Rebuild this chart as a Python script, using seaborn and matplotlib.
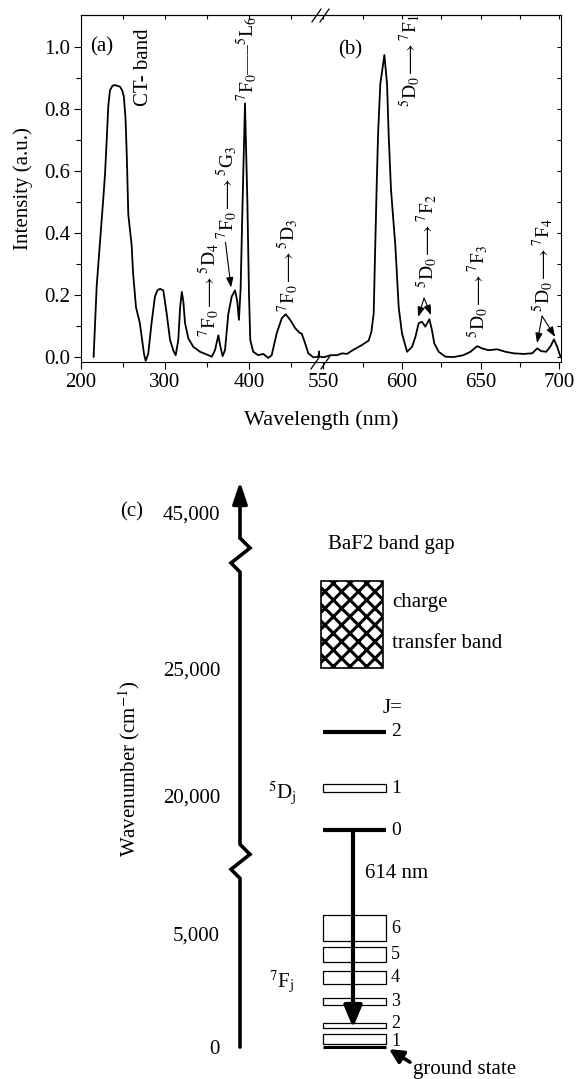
import matplotlib
matplotlib.use("Agg")
import matplotlib.pyplot as plt
import numpy as np
import seaborn as sns
from matplotlib.ticker import NullFormatter

# ------------------------------------------------------------------
# Data
# ------------------------------------------------------------------
# (a) excitation spectrum, left part of the broken axis
exc_nm = [215.0, 218.7, 222.6, 226.5, 228.6, 230.6, 232.5, 234.5, 237.5, 240.5,
          244.0, 246.4, 249.0, 251.0, 253.0, 254.5, 256.3, 260.3, 262.0, 265.5,
          270.0, 275.0, 277.0, 280.0, 284.0, 288.0, 291.0, 294.0, 298.0, 302.0,
          306.0, 310.0, 312.7, 315.8, 318.0, 320.0, 321.8, 323.8, 327.8, 333.7,
          341.7, 351.6, 355.6, 359.5, 363.5, 366.0, 368.6, 371.4, 375.4, 379.4,
          383.3, 386.0, 388.0, 390.0, 392.4, 395.2, 398.0, 400.0, 401.5, 405.0,
          411.0, 417.0, 423.0, 427.0, 433.0, 439.0, 443.6, 449.0, 455.0, 460.7,
          462.7, 466.7, 470.6, 476.6, 482.5, 483.6, 484.5]
exc_int = [0.000, 0.230, 0.370, 0.510, 0.590, 0.700, 0.810, 0.860, 0.875, 0.877,
           0.874, 0.872, 0.860, 0.840, 0.770, 0.650, 0.460, 0.360, 0.270, 0.160,
           0.110, 0.010, -0.012, 0.010, 0.110, 0.195, 0.215, 0.220, 0.215, 0.140,
           0.055, 0.020, 0.006, 0.055, 0.160, 0.210, 0.180, 0.110, 0.060, 0.033,
           0.017, 0.006, 0.001, 0.022, 0.070, 0.033, 0.003, 0.022, 0.140, 0.195,
           0.215, 0.180, 0.120, 0.220, 0.506, 0.818, 0.506, 0.200, 0.055, 0.017,
           0.006, 0.010, -0.003, 0.006, 0.077, 0.125, 0.138, 0.120, 0.093, 0.077,
           0.076, 0.045, 0.012, -0.001, 0.001, 0.018, 0.000]

# (b) emission spectrum, right part of the broken axis
emi_nm = [548.5, 551.0, 554.5, 558.7, 562.0, 565.0, 569.0, 574.6, 578.8, 580.5,
          582.0, 583.0, 584.0, 584.8, 586.2, 588.8, 590.5, 591.5, 593.0, 595.8,
          597.9, 600.0, 603.2, 606.4, 608.5, 610.6, 612.7, 614.8, 617.4, 619.0,
          620.5, 623.3, 627.6, 632.8, 639.0, 643.5, 647.7, 650.9, 655.0, 660.4,
          665.7, 671.0, 677.3, 682.7, 685.9, 688.4, 691.6, 694.4, 696.5, 698.6,
          700.7]
emi_int = [0.000, 0.000, 0.006, 0.006, 0.012, 0.010, 0.023, 0.039, 0.053, 0.080,
           0.140, 0.360, 0.570, 0.720, 0.880, 0.974, 0.880, 0.720, 0.540, 0.356,
           0.160, 0.076, 0.017, 0.033, 0.065, 0.109, 0.114, 0.098, 0.122, 0.087,
           0.044, 0.017, 0.001, 0.000, 0.006, 0.017, 0.035, 0.028, 0.022, 0.025,
           0.017, 0.012, 0.010, 0.012, 0.028, 0.019, 0.017, 0.035, 0.057, 0.033,
           0.000]

# transition labels: (wavelength, bottom of label, text)
exc_labels = [
    (352.0, 0.065, r"$^7$F$_0{\longrightarrow}{}^5$D$_4$"),
    (373.4, 0.380, r"$^7$F$_0{\longrightarrow}{}^5$G$_3$"),
    (396.5, 0.825, r"$^7$F$_0$—–$^5$L$_6$"),
    (445.5, 0.145, r"$^7$F$_0{\longrightarrow}{}^5$D$_3$"),
]
emi_labels = [
    (605.1, 0.806, r"$^5$D$_0{\longrightarrow}{}^7$F$_1$"),
    (615.9, 0.222, r"$^5$D$_0{\longrightarrow}{}^7$F$_2$"),
    (648.3, 0.060, r"$^5$D$_0{\longrightarrow}{}^7$F$_3$"),
    (689.6, 0.145, r"$^5$D$_0{\longrightarrow}{}^7$F$_4$"),
]
# pointer arrows from a label to its peak(s): (start, end)
exc_pointers = [((372.0, 0.370), (378.6, 0.224))]
emi_pointers = [((614.0, 0.190), (610.2, 0.129)),
                ((614.0, 0.190), (618.5, 0.135)),
                ((689.0, 0.132), (685.8, 0.045)),
                ((689.0, 0.132), (697.3, 0.065))]

# (c) energy-level scheme, wavenumbers in cm-1 on the broken scale
wn_ticks = [0, 5000, 20000, 25000, 45000]
wn_ticklabels = ["0", "5,000", "20,000", "25,000", "45,000"]
wn_breaks = [12800, 39500]
f_j = ["1", "2", "3", "4", "5", "6"]
f_lo = [130, 830, 1840, 2760, 3730, 4650]
f_hi = [570, 1050, 2150, 3330, 4390, 6960]
d_j = ["2", "1", "0"]
d_lo = [22500, 20120, 16200]
d_hi = [22500, 20430, 16200]
ct_band = (25000, 36150)
emission_614 = (16200, 850)
axis_top = 48900

# ------------------------------------------------------------------
# Style
# ------------------------------------------------------------------
sns.set_theme(style="ticks", rc={
    "axes.edgecolor": "black", "text.color": "black",
    "axes.labelcolor": "black", "xtick.color": "black", "ytick.color": "black",
    "axes.linewidth": 0.8,
})
plt.rcParams["font.family"] = ["Liberation Serif", "DejaVu Serif"]
plt.rcParams["mathtext.fontset"] = "stix"
plt.rcParams["hatch.linewidth"] = 2.2

FS = 15
W, H = 578, 1079


def box(l, t, r, b):
    return [l / W, 1 - b / H, (r - l) / W, (b - t) / H]


fig = plt.figure(figsize=(W / 100, H / 100), dpi=100)
ax_a = fig.add_axes(box(81, 15, 320, 362))
ax_b = fig.add_axes(box(320, 15, 561, 362))
ax_c = fig.add_axes(box(240, 470, 578, 1079))

# ------------------------------------------------------------------
# Spectra (a) + (b)
# ------------------------------------------------------------------
sns.lineplot(x=exc_nm, y=exc_int, ax=ax_a, color="black", lw=1.3,
             sort=False, estimator=None)
sns.lineplot(x=emi_nm, y=emi_int, ax=ax_b, color="black", lw=1.3,
             sort=False, estimator=None)

ax_a.set_xlim(200, 484.5)
ax_b.set_xlim(547.9, 701)
for ax in (ax_a, ax_b):
    ax.set_ylim(-0.016, 1.103)
    ax.set_yticks(np.arange(0, 1.01, 0.2))
    ax.set_yticks(np.arange(0.1, 1.0, 0.2), minor=True)

ax_a.set_xticks([200, 300, 400])
ax_a.set_xticks([250, 350, 450], minor=True)
ax_b.set_xticks([550, 600, 650, 700])
ax_b.set_xticks([575, 625, 675], minor=True)

ax_a.spines["right"].set_visible(False)
ax_b.spines["left"].set_visible(False)
ax_a.yaxis.tick_left()
ax_b.yaxis.tick_right()
for ax in (ax_a, ax_b):
    ax.xaxis.tick_bottom()
    ax.tick_params(axis="x", which="major", direction="out", length=5,
                   width=0.8, labelsize=FS, pad=3)
    ax.tick_params(axis="x", which="minor", direction="out", length=3.5,
                   width=0.8)
    sec = ax.secondary_xaxis("top")
    sec.set_xticks(ax.get_xticks())
    sec.set_xticks(ax.get_xticks(minor=True), minor=True)
    sec.xaxis.set_major_formatter(NullFormatter())
    sec.tick_params(which="both", direction="in", length=3, width=0.8)
    sec.spines["top"].set_linewidth(0.8)
ax_a.tick_params(axis="y", which="major", direction="out", length=5,
                 width=0.8, labelsize=FS, pad=3)
ax_a.tick_params(axis="y", which="minor", direction="out", length=3.5, width=0.8)
ax_b.tick_params(axis="y", which="both", direction="in", length=3,
                 width=0.8, labelright=False)

ax_a.set_ylabel("Intensity (a.u.)", fontsize=FS, labelpad=8)
ax_a.set_xlabel("")
fig.text(321 / W, 1 - 420 / H, "Wavelength (nm)", ha="center", va="center",
         fontsize=FS + 1)

ax_a.text(224.6, 1.0, "(a)", ha="center", va="center", fontsize=FS)
ax_b.text(567.0, 0.99, "(b)", ha="center", va="center", fontsize=FS)
ax_a.text(274.0, 0.935, "CT- band", rotation=90, ha="center", va="center",
          fontsize=FS)

for ax, labels, pointers in ((ax_a, exc_labels, exc_pointers),
                             (ax_b, emi_labels, emi_pointers)):
    for x, y, s in labels:
        ax.text(x, y, s, rotation=90, ha="center", va="bottom", fontsize=14)
    for start, end in pointers:
        ax.annotate("", xy=end, xytext=start,
                    arrowprops=dict(arrowstyle="-|>,head_length=0.5,head_width=0.18",
                                    color="black", lw=0.8, shrinkA=0, shrinkB=0,
                                    mutation_scale=12))

# axis break marks
slash = dict(marker=[(-0.7, -1), (0.7, 1)], markersize=10, linestyle="none",
             color="black", mec="black", mew=0.9, clip_on=False)
ax_b.plot([-0.015, 0.015], [1, 1], transform=ax_b.transAxes, **slash)
ax_b.plot([-0.02, 0.02], [0, 0], transform=ax_b.transAxes, **slash)

# ------------------------------------------------------------------
# Energy level scheme (c)
# ------------------------------------------------------------------
W_ANCH = [-2000, 0, 5000, 20000, 25000, 45000, 60000]
P_ANCH = [-45.6, 0, 114, 252, 379, 535, 652]


def fwd(w):
    return np.interp(w, W_ANCH, P_ANCH)


def inv(p):
    return np.interp(p, P_ANCH, W_ANCH)


ax_c.set_yscale("function", functions=(fwd, inv))
ax_c.set_xlim(240, 578)
ax_c.set_ylim(-1400, 50400)
for s in ax_c.spines.values():
    s.set_visible(False)
ax_c.set_xticks([])
ax_c.set_yticks(wn_ticks)
ax_c.set_yticklabels(wn_ticklabels)
ax_c.yaxis.set_minor_formatter(NullFormatter())
ax_c.tick_params(axis="y", which="both", length=0, pad=14.4, labelsize=FS)
ax_c.set_ylabel(r"Wavenumber (cm$^{-1}$)", fontsize=FS)
ax_c.yaxis.set_label_coords(-0.29, 0.51)
ax_c.grid(False)

# vertical energy axis with two zigzag breaks
zig = [(0, -17), (-9, -8), (10, 7), (0, 17)]   # (dx px, dpos px), bottom -> top
axis_x = 240
px, pw = [axis_x], [0]
for b in wn_breaks:
    for dx, dp in zig:
        px.append(axis_x + dx)
        pw.append(float(inv(fwd(b) + dp)))
ax_c.plot(px, pw, color="black", lw=2.6, clip_on=False,
          solid_joinstyle="miter")
ax_c.annotate("", xy=(axis_x, axis_top), xytext=(axis_x, pw[-1]),
              arrowprops=dict(arrowstyle="-|>,head_length=0.65,head_width=0.22",
                              color="black", lw=2.6, shrinkA=0, shrinkB=0,
                              mutation_scale=20))

lvl_x0, lvl_x1 = 323, 386
lvl_c, lvl_w = (lvl_x0 + lvl_x1) / 2, lvl_x1 - lvl_x0

# 7Fj multiplet (open boxes) and ground state
ax_c.bar([lvl_c] * len(f_lo), np.subtract(f_hi, f_lo), bottom=f_lo,
         width=lvl_w, fill=False, edgecolor="black", linewidth=0.9)
ax_c.hlines(0, lvl_x0, lvl_x1, color="black", lw=2.2)

# 5Dj levels
thin = [i for i in range(len(d_lo)) if d_hi[i] > d_lo[i]]
ax_c.bar([lvl_c] * len(thin), [d_hi[i] - d_lo[i] for i in thin],
         bottom=[d_lo[i] for i in thin], width=lvl_w, fill=False,
         edgecolor="black", linewidth=0.9)
thick = [d_lo[i] for i in range(len(d_lo)) if d_hi[i] == d_lo[i]]
ax_c.hlines(thick, lvl_x0, lvl_x1, color="black", lw=3.0)

# charge-transfer band
ax_c.bar([352], [ct_band[1] - ct_band[0]], bottom=ct_band[0], width=62,
         color="white", edgecolor="black", hatch="xx", linewidth=1.2)


def mid(lo, hi, nudge=0):
    return float(inv((fwd(lo) + fwd(hi)) / 2 + nudge))


# the two lowest J labels sit very close: nudge them apart a little
f_nudge = [-2.5, 2.5, 0, 0, 0, 0]
for j, lo, hi, n in zip(f_j, f_lo, f_hi, f_nudge):
    ax_c.text(391, mid(lo, hi, n), j, ha="left", va="center", fontsize=13)
for j, lo, hi in zip(d_j, d_lo, d_hi):
    ax_c.text(391, mid(lo, hi), j, ha="left", va="center", fontsize=14)
ax_c.text(383, 23420, "J=", ha="left", va="center", fontsize=FS)

# 614 nm emission arrow
ax_c.annotate("", xy=(353, emission_614[1]), xytext=(353, emission_614[0]),
              arrowprops=dict(arrowstyle="-|>,head_length=0.6,head_width=0.25",
                              color="black", lw=3.0, shrinkA=0, shrinkB=0,
                              mutation_scale=22))
ax_c.text(365, 11500, "614 nm", ha="left", va="center", fontsize=FS)

# ground-state pointer
ax_c.annotate("", xy=(389, -90), xytext=(410, -660),
              arrowprops=dict(arrowstyle="-|>,head_length=0.6,head_width=0.3",
                              color="black", lw=2.6, shrinkA=0, shrinkB=0,
                              mutation_scale=14), annotation_clip=False)
ax_c.text(413, -965, "ground state", ha="left", va="center", fontsize=FS,
          clip_on=False)

ax_c.text(282, 2850, r"$^7$F$_\mathrm{j}$", ha="center", va="center", fontsize=FS)
ax_c.text(282, 20120, r"$^5$D$_\mathrm{j}$", ha="center", va="center", fontsize=FS)
ax_c.text(328, 40900, "BaF2 band gap", ha="left", va="center", fontsize=FS)
ax_c.text(392, 33460, "charge", ha="left", va="center", fontsize=FS)
ax_c.text(392, 28200, "transfer band", ha="left", va="center", fontsize=FS)
ax_c.text(132, 45000, "(c)", ha="center", va="center", fontsize=FS)

fig.savefig("out.png", dpi=100)
